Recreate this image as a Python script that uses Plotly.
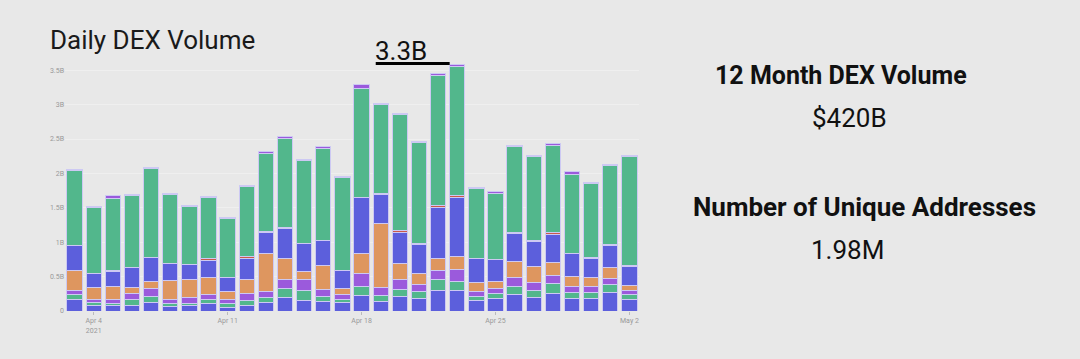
import plotly.graph_objects as go
import pandas as pd

dates = pd.date_range("2021-04-03", "2021-05-02", freq="D").strftime("%Y-%m-%d").tolist()

# values in billions USD, stacked bottom -> top
base_blue = [0.16,0.082,0.073,0.087,0.121,0.063,0.073,0.102,0.053,0.087,0.121,0.199,0.15,0.131,0.121,0.228,0.141,0.208,0.184,0.305,0.296,0.15,0.179,0.233,0.194,0.252,0.179,0.184,0.262,0.17]
small_green = [0.073,0.039,0.043,0.073,0.097,0.048,0.043,0.063,0.058,0.063,0.078,0.121,0.141,0.087,0.049,0.126,0.082,0.107,0.102,0.146,0.14,0.068,0.073,0.121,0.102,0.15,0.092,0.092,0.116,0.063]
mid_purple = [0.072,0.039,0.058,0.097,0.111,0.059,0.078,0.068,0.063,0.107,0.082,0.131,0.17,0.097,0.063,0.184,0.116,0.136,0.092,0.145,0.17,0.068,0.082,0.126,0.116,0.116,0.092,0.087,0.092,0.058]
orange = [0.286,0.179,0.189,0.087,0.097,0.271,0.266,0.256,0.107,0.208,0.552,0.305,0.12,0.344,0.101,0.305,0.94,0.242,0.165,0.165,0.179,0.135,0.102,0.242,0.233,0.189,0.136,0.117,0.165,0.082]
upper_blue = [0.359,0.208,0.218,0.286,0.354,0.252,0.213,0.247,0.199,0.296,0.315,0.436,0.397,0.363,0.257,0.804,0.412,0.455,0.421,0.746,0.867,0.34,0.31,0.407,0.372,0.402,0.339,0.281,0.32,0.271]
red = [0.003,0.003,0.01,0.003,0.003,0.003,0.003,0.02,0.003,0.024,0.003,0.019,0.01,0.003,0.003,0.01,0.01,0.015,0.01,0.024,0.024,0.005,0.005,0.019,0.01,0.034,0.005,0.014,0.014,0.02]
big_green = [1.085,0.955,1.047,1.051,1.284,1.003,0.839,0.896,0.862,1.022,1.144,1.299,1.202,1.342,1.352,1.584,1.298,1.696,1.482,1.899,1.885,1.008,0.964,1.245,1.216,1.265,1.144,1.081,1.148,1.584]
top_purple = [0.024,0.014,0.038,0.015,0.019,0.014,0.014,0.019,0.014,0.02,0.019,0.024,0.019,0.02,0.01,0.049,0.02,0.014,0.015,0.019,0.024,0.014,0.015,0.015,0.015,0.024,0.034,0.014,0.019,0.015]

series = [base_blue, small_green, mid_purple, orange, upper_blue, red, big_green, top_purple]
colors = ["#5c5fdc", "#52b78c", "#9b5adc", "#de965f", "#5c5fdc", "#c9594a", "#52b78c", "#9b5adc"]

y_tickvals = [0, 0.5, 1, 1.5, 2, 2.5, 3, 3.5]
y_ticktext = ["0", "0.5B", "1B", "1.5B", "2B", "2.5B", "3B", "3.5B"]

title_text = "Daily DEX Volume"
peak_label = "3.3B"
stat1_label, stat1_value = "12 Month DEX Volume", "$420B"
stat2_label, stat2_value = "Number of Unique Addresses", "1.98M"

BG = "#e8e8e8"
W, H = 1080, 359
L, R, T, B = 65, 440.5, 53, 48
pw, ph = W - L - R, H - T - B

def px(x):
    return (x - L) / pw

def py(y):
    return (H - B - y) / ph

fig = go.Figure()
for vals, col in zip(series, colors):
    fig.add_trace(go.Bar(
        x=dates, y=vals, marker=dict(color=col, line=dict(color="#cdc9f3", width=1)),
        showlegend=False, hoverinfo="skip"))

fig.update_layout(
    width=W, height=H, barmode="stack", bargap=0.2,
    paper_bgcolor=BG, plot_bgcolor=BG,
    margin=dict(l=L, r=R, t=T, b=B, pad=0),
    font=dict(family="Roboto, sans-serif", color="#222"),
    title=dict(text=title_text, x=50 / W, xref="container", y=1 - 40 / H, yref="container",
               xanchor="left", yanchor="middle", font=dict(size=26, color="#1a1a1a", family="Roboto")),
    xaxis=dict(type="date", range=["2021-04-02 12:00", "2021-05-02 12:00"],
               tick0="2021-04-04", dtick=7 * 86400000, ticks="outside", ticklen=3, tickcolor="#bbb",
               tickfont=dict(size=7, color="#999"), showgrid=False, zeroline=False, showline=False),
    yaxis=dict(range=[0, 3.75], tickvals=y_tickvals, ticktext=y_ticktext,
               tickfont=dict(size=7, color="#999"), gridcolor="#efefef", gridwidth=1,
               zeroline=False, showline=False, ticks=""),
)

annots = [
    dict(text=peak_label, x=px(373), y=py(51), xanchor="left", yanchor="middle", size=26, bold=False),
    dict(text=stat1_label, x=px(842), y=py(75), xanchor="center", yanchor="middle", size=25, bold=True),
    dict(text=stat1_value, x=px(850), y=py(118), xanchor="center", yanchor="middle", size=26, bold=False),
    dict(text=stat2_label, x=px(865), y=py(207), xanchor="center", yanchor="middle", size=26, bold=True),
    dict(text=stat2_value, x=px(848), y=py(250), xanchor="center", yanchor="middle", size=26, bold=False),
]
for a in annots:
    fig.add_annotation(text=("<b>%s</b>" % a["text"]) if a["bold"] else a["text"],
                       x=a["x"], y=a["y"], xref="paper", yref="paper",
                       xanchor=a["xanchor"], yanchor=a["yanchor"], showarrow=False,
                       font=dict(size=a["size"], color="#111", family="Roboto"))

fig.add_shape(type="line", xref="paper", yref="paper", x0=px(376), x1=px(450), y0=py(63.5), y1=py(63.5),
              line=dict(color="#000", width=3))

fig.write_html("out.html", config={"displayModeBar": False},
               post_script="document.body.style.margin='0';document.body.style.background='%s';" % BG)
